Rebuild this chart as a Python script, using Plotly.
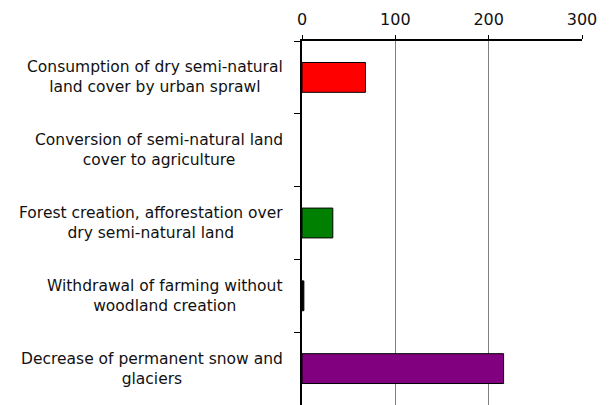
import plotly.graph_objects as go

categories = [
    "Consumption of dry semi-natural<br>land cover by urban sprawl",
    "Conversion of semi-natural land<br>cover to agriculture",
    "Forest creation, afforestation over<br>dry semi-natural land",
    "Withdrawal of farming without<br>woodland creation",
    "Decrease of permanent snow and<br>glaciers",
]
values = [68, 0, 33, 2, 216]
colors = ["#FF0000", "#FFFF00", "#008000", "#000000", "#800080"]
x_ticks = [0, 100, 200, 300]

fig = go.Figure()
fig.add_trace(go.Bar(
    y=categories, x=values, orientation="h",
    marker=dict(color=colors, line=dict(color="black",
                width=[1 if v > 0 else 0 for v in values])),
    width=0.41,
))

for c in categories:
    fig.add_annotation(
        x=0, xref="paper", y=c, yref="y", text=c, showarrow=False,
        xanchor="right", xshift=-17, align="center",
        font=dict(family="DejaVu Sans", size=15.5, color="#111111"),
    )

# page body has an 8px default margin, so the figure is sized to fit
fig.update_layout(
    width=602, height=397,
    margin=dict(l=294, r=28, t=33, b=0),
    plot_bgcolor="white", paper_bgcolor="white",
    showlegend=False,
    font=dict(family="DejaVu Sans", color="black"),
)
fig.update_xaxes(
    side="top", range=[0, 300], tickvals=x_ticks,
    showgrid=True, gridcolor="#808080", gridwidth=1,
    showline=True, linecolor="black", linewidth=1.5,
    ticks="outside", ticklen=4, tickcolor="black", ticklabelstandoff=4,
    zeroline=False, tickfont=dict(size=16, family="DejaVu Sans", color="#111111"),
)
fig.update_yaxes(
    autorange="reversed", showticklabels=False,
    showline=True, linecolor="black", linewidth=2,
    ticks="outside", ticklen=6, tickcolor="black", tickson="boundaries",
    showgrid=False, zeroline=False,
)

fig.write_html("out.html")
